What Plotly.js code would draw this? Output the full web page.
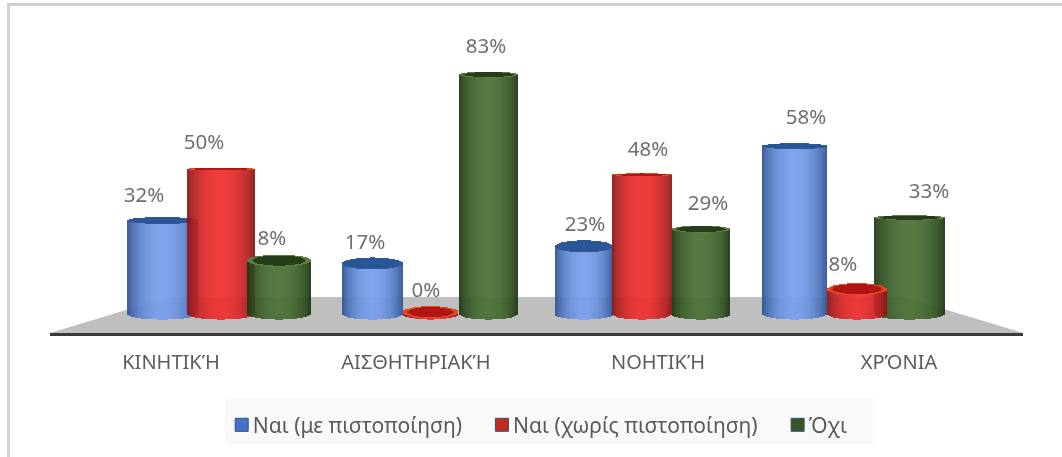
<!DOCTYPE html>
<html><head><meta charset="utf-8">
<script src="https://cdn.plot.ly/plotly-3.0.1.min.js"></script>
<style>
html,body{margin:0;padding:0;background:#fff;overflow:hidden}
#frame{position:absolute;left:7px;top:3px;width:1060px;height:452px;border-left:3px solid #d2d2d2;border-top:3px solid #cfcfcf;border-bottom:1px solid #f0f0f0}
#chart{position:absolute;left:0;top:0;width:1062px;height:457px;filter:blur(0.6px)}
</style></head><body>
<div id="frame"></div><div id="chart"></div>
<script>
const categories = ['ΚΙΝΗΤΙΚΉ','ΑΙΣΘΗΤΗΡΙΑΚΉ','ΝΟΗΤΙΚΉ','ΧΡΌΝΙΑ'];
const seriesNames = ['Ναι (με πιστοποίηση)','Ναι (χωρίς πιστοποίηση)','Όχι'];
const yesCertified = [32,17,23,58];
const yesUncertified = [50,0,48,8];
const no = [18,83,29,33];
const labelsCertified = ['32%','17%','23%','58%'];
const labelsUncertified = ['50%','0%','48%','8%'];
const labelsNo = ['8%','83%','29%','33%'];

const values = [yesCertified, yesUncertified, no];
const labels = [labelsCertified, labelsUncertified, labelsNo];

// Geometry (axis units: one category step = 211 px; value unit = 2.87 px)
const U = 211, V = 2.87;
const offsets = [[-56.5,-57.5,-57,-57.5],[2,0.5,1,5],[60,58.5,60,57.5]];
const widths  = [[71,61,58,65],[68,55,60,60],[64,59,58,71]];
const capRy   = [[3.5,6,6,3],[1.5,6,1.5,6],[6,3,3.5,2.5]];
const labelDx = [[-75,-65,-56,-46],[-15,-4,7,-9],[53,56,67,77]];
const labelUp = [[8.4,7,7.3,9.6],[8.9,7,8.4,8],[7.4,9.4,8.3,8.5]];
const tickPos = [-48,-14,17,47].map((d,i)=>i+d/U);
const drawOrder = [[0,1,2],[0,1,2],[0,1,2],[2,1,0]];
const edge = [[40,76,140],[128,20,20],[24,48,16]];
const peak = [[118,158,236],[238,46,46],[74,112,52]];
const capRim = ['rgba(42,86,152,0.99)','rgba(232,72,30,0.99)','rgba(92,124,68,0.99)'];
const capIn  = ['rgba(42,86,152,0.99)','rgba(176,20,20,0.99)','rgba(34,62,24,0.99)'];
const legendCol = ['#4472c4','#c5281c','#375623'];
const baseV = -0.7, baseRy = 5.5/V;

function strips(s,i){
  const c = i + offsets[s][i]/U, w = widths[s][i]/U, n = Math.round(widths[s][i]/2);
  const top = values[s][i], ryT = capRy[s][i]/V;
  const xs=[],bs=[],hs=[],ws=[],cols=[];
  const add=(x,b,h,col)=>{xs.push(x);bs.push(b);hs.push(h);ws.push(w/n);cols.push(col);};
  for(let j=0;j<n;j++){
    const t=(j+0.5)/n*2-1,k=Math.sqrt(1-t*t),x=c+t*w/2;
    const m=Math.pow(k,1.6),col=edge[s].map((e,q)=>Math.round(e+(peak[s][q]-e)*m));
    const bot=baseV-baseRy*k, up=top-ryT*k;
    if(up>bot) add(x,bot,up-bot,`rgba(${col},0.93)`);
  }
  for(let j=0;j<n;j++){
    const t=(j+0.5)/n*2-1,k=Math.sqrt(1-t*t),x=c+t*w/2;
    add(x,top-ryT*k,2*ryT*k,capRim[s]);
  }
  const inner=0.84;
  for(let j=0;j<n;j++){
    const t=(j+0.5)/n*2-1;
    if(Math.abs(t)>=inner) continue;
    const k=Math.sqrt(1-(t/inner)*(t/inner)),x=c+t*w/2;
    add(x,top-ryT*inner*k,2*ryT*inner*k,capIn[s]);
  }
  return {type:'bar',x:xs,y:hs,base:bs,width:ws,marker:{color:cols,line:{width:0}},
          showlegend:false,hoverinfo:'skip'};
}

const traces=[];
categories.forEach((_,i)=>drawOrder[i].forEach(s=>traces.push(strips(s,i))));

const lx=[],ly=[],lt=[];
values.forEach((arr,s)=>arr.forEach((v,i)=>{
  lx.push(i+labelDx[s][i]/U); ly.push(v+labelUp[s][i]); lt.push(labels[s][i]);
}));
traces.push({type:'scatter',mode:'text',x:lx,y:ly,text:lt,textposition:'middle center',
  textfont:{family:'"Noto Sans",sans-serif',size:20.5,color:'#6f6f6f'},showlegend:false,hoverinfo:'skip'});
seriesNames.forEach((name,s)=>traces.push({type:'scatter',mode:'markers',x:[-100],y:[-100],name,
  marker:{symbol:'square',size:13,color:legendCol[s],line:{width:1,color:'#2f4f7f'}},hoverinfo:'skip'}));

const xMin=-169/U, xMax=804/U, yMin=-21/V, yMax=293/V, floorV=15/V;
const floorPath=`M ${xMin} ${yMin} L ${-50/U} ${floorV} L ${685/U} ${floorV} L ${xMax} ${yMin} Z`;

Plotly.newPlot('chart',traces,{
  width:1062,height:457,margin:{l:50,r:39,t:20,b:123},
  paper_bgcolor:'rgba(0,0,0,0)',plot_bgcolor:'rgba(0,0,0,0)',
  barmode:'overlay',bargap:0,
  font:{family:'"Noto Sans",sans-serif',color:'#595959'},
  xaxis:{range:[xMin,xMax],tickvals:tickPos,ticktext:categories,showgrid:false,zeroline:false,
    showline:true,linecolor:'#3a3a3a',linewidth:3,ticks:'outside',ticklen:9,tickcolor:'rgba(0,0,0,0)',
    tickfont:{size:20,color:'#5c5c5c'}},
  yaxis:{range:[yMin,yMax],visible:false,showgrid:false,zeroline:false},
  shapes:[
    {type:'path',xref:'x',yref:'y',path:floorPath,fillcolor:'#bfbfbf',line:{width:0},layer:'below'},
    {type:'rect',xref:'paper',yref:'paper',x0:0.18,x1:0.848,y0:-0.3535,y1:-0.21,fillcolor:'#f9f9f9',line:{width:0},layer:'below'}
  ],
  legend:{orientation:'h',x:0.493,xanchor:'center',y:-0.225,yanchor:'top',bgcolor:'rgba(0,0,0,0)',
    font:{size:21,color:'#595959'},itemwidth:36}
},{displayModeBar:false,staticPlot:true}).then(gd=>{
  // Tighten the gap between each legend swatch and its text.
  gd.querySelectorAll('.legend .legendsymbols').forEach(g=>{
    g.setAttribute('transform',(g.getAttribute('transform')||'')+' translate(12,0)');
  });
});
</script></body></html>
